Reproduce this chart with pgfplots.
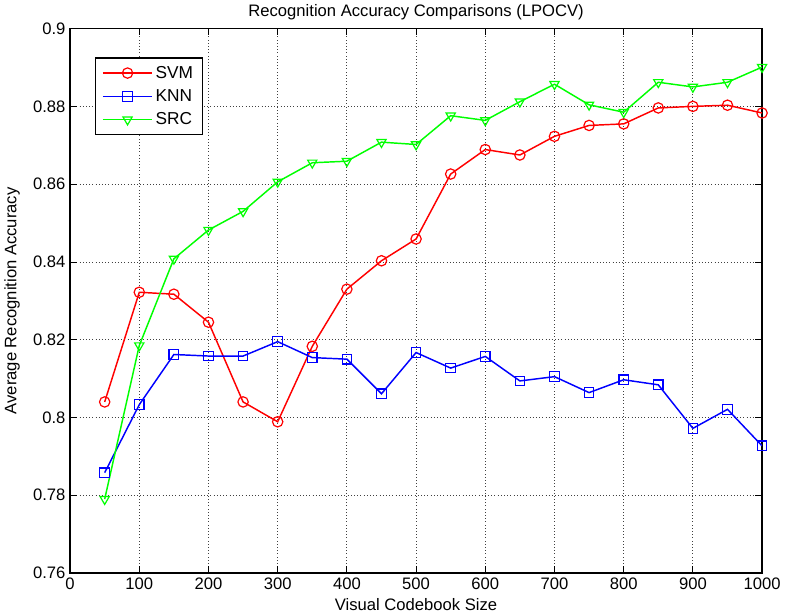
\documentclass[border=0pt]{standalone}
\usepackage{fontspec}
\setmainfont{Liberation Sans}
\usepackage{pgfplots}
\pgfplotsset{compat=1.18}

\begin{document}
\begin{tikzpicture}
\begin{axis}[
    scale only axis,
    width=520.5pt, height=409.5pt,
    xmin=0, xmax=1000, ymin=0.76, ymax=0.9,
    xtick={0,100,200,300,400,500,600,700,800,900,1000},
    ytick={0.76,0.78,0.8,0.82,0.84,0.86,0.88,0.9},
    /pgf/number format/assume math mode=true,
    /pgf/number format/1000 sep={},
    yticklabel style={/pgf/number format/fixed, /pgf/number format/precision=2},
    font=\fontsize{12.5}{14}\selectfont,
    tick label style={font=\fontsize{12.5}{14}\selectfont},
    grid=major,
    major grid style={dotted, line width=0.6pt, black!75},
    tick align=inside,
    major tick length=5pt,
    tick style={black, line width=0.6pt},
    axis line style={line width=0.9pt},
    title={Recognition Accuracy Comparisons (LPOCV)},
    title style={yshift=-3pt},
    xlabel={Visual Codebook Size},
    ylabel={Average Recognition Accuracy},
    xlabel style={yshift=0pt},
    ylabel style={yshift=3pt},
    legend cell align=left,
    legend style={at={(0.036,0.947)}, anchor=north west, draw=black,
        line width=0.9pt, font=\fontsize{13}{15}\selectfont,
        row sep=3pt, inner xsep=5pt, inner ysep=4pt},
    legend image code/.code={
        \draw[mark repeat=2, mark phase=2, #1, line width=1.1pt]
            plot coordinates {(0cm,0cm) (0.65cm,0cm) (1.3cm,0cm)};},
]
\addplot[red, line width=1.1pt, mark=o, mark size=3.9pt,
    mark options={line width=0.9pt}] coordinates {
(50,0.804) (100,0.8322) (150,0.8317) (200,0.8245) (250,0.804)
(300,0.7989) (350,0.8183) (400,0.8330) (450,0.8403) (500,0.8459)
(550,0.8626) (600,0.8689) (650,0.8675) (700,0.8723) (750,0.8751)
(800,0.8755) (850,0.8796) (900,0.8800) (950,0.8803) (1000,0.8783)
};
\addplot[blue, line width=1.1pt, mark=square, mark size=3.6pt,
    mark options={line width=0.9pt}] coordinates {
(50,0.7858) (100,0.8033) (150,0.8162) (200,0.8158) (250,0.8158)
(300,0.8195) (350,0.8154) (400,0.8150) (450,0.8061) (500,0.8167)
(550,0.8127) (600,0.8157) (650,0.8094) (700,0.8105) (750,0.8064)
(800,0.8097) (850,0.8084) (900,0.7972) (950,0.8021) (1000,0.7927)
};
\addplot[green, line width=1.1pt, mark=triangle, mark size=4pt,
    mark options={line width=0.9pt, rotate=180}] coordinates {
(50,0.7790) (100,0.8185) (150,0.8408) (200,0.8482) (250,0.8530)
(300,0.8606) (350,0.8655) (400,0.8659) (450,0.8708) (500,0.8702)
(550,0.8776) (600,0.8764) (650,0.8812) (700,0.8857) (750,0.8804)
(800,0.8785) (850,0.8862) (900,0.8850) (950,0.8862) (1000,0.8901)
};
\legend{SVM, KNN, SRC}
\end{axis}
\end{tikzpicture}
\end{document}
